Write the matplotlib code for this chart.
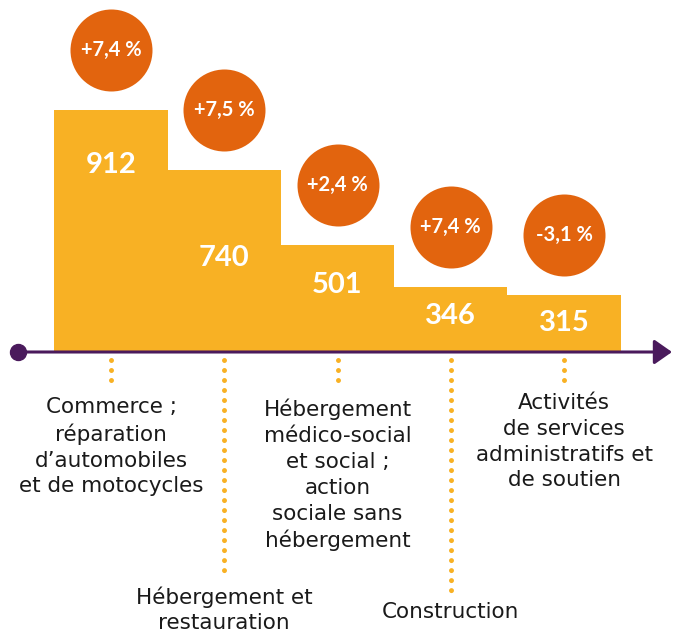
import matplotlib
matplotlib.use("Agg")
import matplotlib.pyplot as plt
from matplotlib.transforms import ScaledTranslation

# ---- data ----
categories = [
    "Commerce ;\nréparation\nd’automobiles\net de motocycles",
    "Hébergement et\nrestauration",
    "Hébergement\nmédico-social\net social ;\naction\nsociale sans\nhébergement",
    "Construction",
    "Activités\nde services\nadministratifs et\nde soutien",
]
values = [912, 740, 501, 346, 315]
changes = ["+7,4 %", "+7,5 %", "+2,4 %", "+7,4 %", "-3,1 %"]

# ---- layout / style ----
W, H, DPI = 673, 632, 100
BAR = "#F8B124"
CIRC = "#E2640E"
PURPLE = "#4A1A5C"
NUMFONT = "Lato"
LABFONT = "DejaVu Sans"
axis_px = 352              # axis line, pixels from top
P = 1.36                   # power of the (non-linear) value scale
y_top = 1200               # value reached at the top of the figure
x0_px, dx_px = 111, 113.25 # first bar centre and spacing, pixels
label_top_px = [397, 586, 399, 602, 393]
dot_end_px = [386, 578, 386, 595, 384]
value_off_px = [55, 88, 40, 29, 28]
circle_off_px = 60

xlim = (-x0_px / dx_px, (W - x0_px) / dx_px)
def px2x(p):
    return (p - x0_px) / dx_px

fig = plt.figure(figsize=(W / DPI, H / DPI), dpi=DPI)

# bar axes: from axis line to top of figure
ax = fig.add_axes([0, (H - axis_px) / H, 1, axis_px / H])
ax.set_xlim(*xlim)
ax.set_yscale("function", functions=(lambda v: abs(v) ** P,
                                     lambda h: abs(h) ** (1 / P)))
ax.set_ylim(0, y_top)
ax.axis("off")

xs = list(range(len(values)))
ax.bar(xs, values, width=1.0, color=BAR, linewidth=0)

def shifted(dy_px):
    return ax.transData + ScaledTranslation(0, dy_px / DPI, fig.dpi_scale_trans)

for x, v, ch, off in zip(xs, values, changes, value_off_px):
    ax.text(x, v, f"{v}", transform=shifted(-off), ha="center", va="center",
            color="white", fontsize=21, fontweight="bold", family=NUMFONT)
    ax.scatter([x], [v], s=(82 * 72 / DPI) ** 2, color=CIRC, zorder=3,
               linewidths=0, clip_on=False, transform=shifted(circle_off_px))
    ax.text(x, v, ch, transform=shifted(circle_off_px), ha="center",
            va="center", color="white", fontsize=14.5, fontweight="bold",
            family=NUMFONT, zorder=4)

# overlay axes in pixel-like vertical coordinates
ov = fig.add_axes([0, 0, 1, 1])
ov.set_xlim(*xlim)
ov.set_ylim(H, 0)
ov.axis("off")
ov.patch.set_alpha(0)

# axis line with dot and arrow
ov.annotate("", xy=(px2x(672), axis_px), xytext=(px2x(18), axis_px),
            arrowprops=dict(arrowstyle="-|>,head_length=0.6,head_width=0.42",
                            mutation_scale=18, lw=2.2, color=PURPLE,
                            shrinkA=0, shrinkB=0))
ov.plot([px2x(18)], [axis_px], marker="o", markersize=11.5, color=PURPLE)

# dotted leaders and labels
for x, lab, top, end in zip(xs, categories, label_top_px, dot_end_px):
    ov.plot([x, x], [360, end], color=BAR, lw=3.6,
            linestyle=(0, (0.001, 2.0)), solid_capstyle="round",
            dash_capstyle="round")
    ov.text(x, top, lab, ha="center", va="top", fontsize=15.5,
            color="#1a1a1a", family=LABFONT, linespacing=1.36)

fig.savefig("out.png", dpi=DPI)
